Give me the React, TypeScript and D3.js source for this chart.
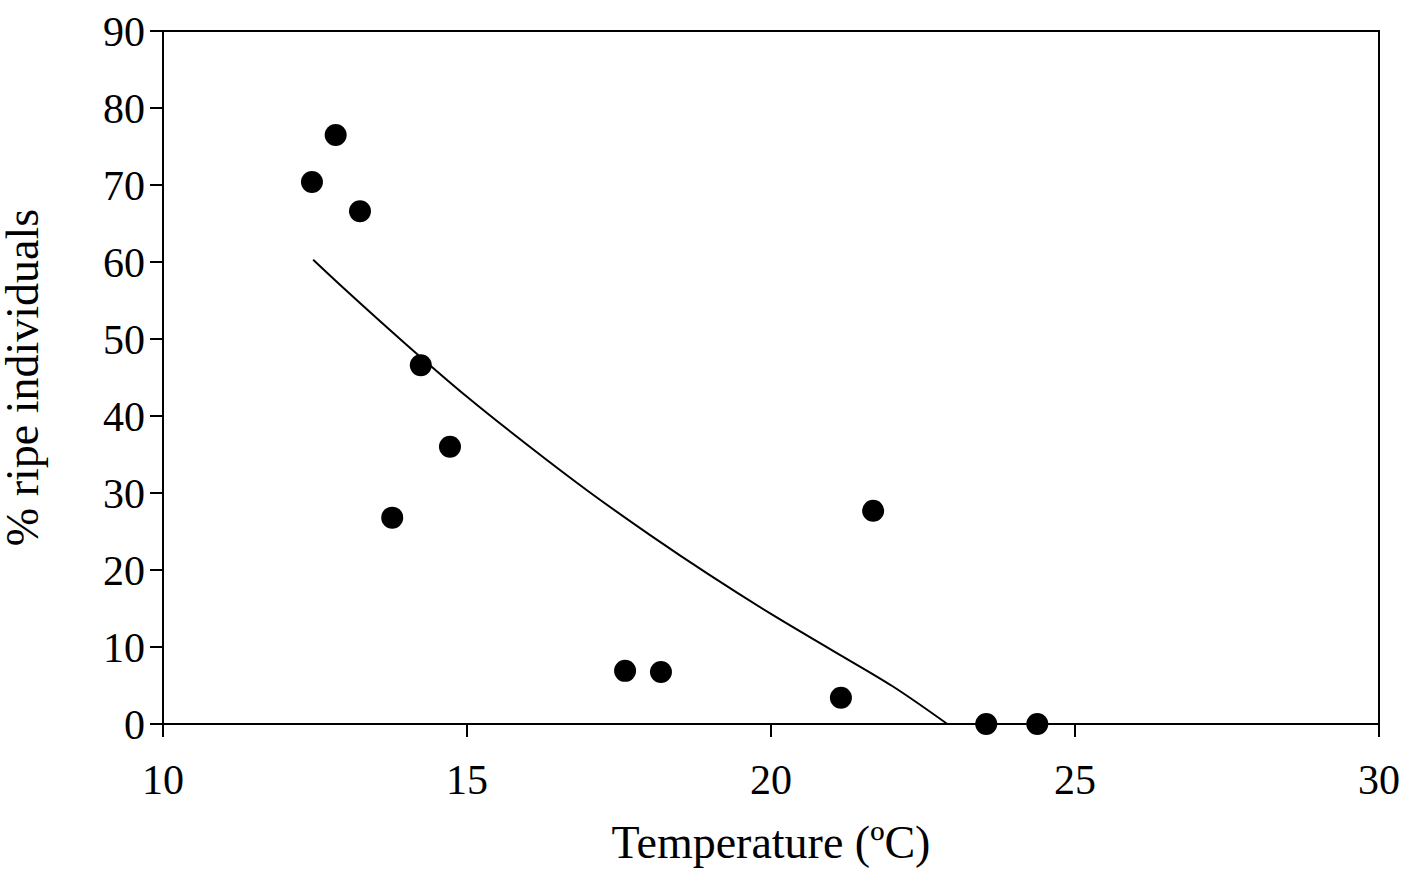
import React from "react";
import * as d3 from "d3";

const pointX = [12.45, 12.84, 13.24, 14.24, 14.72, 13.77, 17.6, 18.19, 21.15, 21.68, 23.54, 24.38];
const pointY = [70.4, 76.5, 66.6, 46.6, 36.0, 26.8, 6.9, 6.75, 3.4, 27.7, 0, 0];
const curveX = [12.47, 13, 14, 15, 16, 17, 18, 19, 20, 21, 22, 22.9];
const curveY = [60.3, 56.4, 49.3, 42.5, 36.2, 30.2, 24.6, 19.3, 14.3, 9.6, 4.9, 0];
const xTicks = [10, 15, 20, 25, 30];
const yTicks = [0, 10, 20, 30, 40, 50, 60, 70, 80, 90];

export default function App() {
  const W = 1417, H = 882;
  const L = 163, R = 1379, T = 31, B = 724;
  const x = d3.scaleLinear().domain([10, 30]).range([L, R]);
  const y = d3.scaleLinear().domain([0, 90]).range([B, T]);
  const line = d3.line<number>().x((_, i) => x(curveX[i])).y((_, i) => y(curveY[i])).curve(d3.curveCatmullRom);
  const font = "'Liberation Serif', 'Times New Roman', serif";
  return (
    <svg width={W} height={H} style={{ position: "absolute", left: 0, top: 0 }} fontFamily={font}>
      <rect x={L} y={T} width={R - L} height={B - T} fill="none" stroke="#000" strokeWidth={2} />
      {yTicks.map(t => (
        <g key={t}>
          <line x1={L - 13} x2={L} y1={y(t)} y2={y(t)} stroke="#000" strokeWidth={2} />
          <text x={L - 18} y={y(t)} dy="0.35em" textAnchor="end" fontSize={42}>{t}</text>
        </g>
      ))}
      {xTicks.map(t => (
        <g key={t}>
          <line x1={x(t)} x2={x(t)} y1={B} y2={B + 13} stroke="#000" strokeWidth={2} />
          <text x={x(t)} y={B + 70} textAnchor="middle" fontSize={42}>{t}</text>
        </g>
      ))}
      <path d={line(curveX) || ""} fill="none" stroke="#000" strokeWidth={2} />
      {pointX.map((px, i) => (
        <circle key={i} cx={x(px)} cy={y(pointY[i])} r={11} fill="#000" />
      ))}
      <text x={(L + R) / 2} y={858} textAnchor="middle" fontSize={46}>Temperature (ºC)</text>
      <text transform={`translate(38, ${(T + B) / 2}) rotate(-90)`} textAnchor="middle" fontSize={46}>% ripe individuals</text>
    </svg>
  );
}
